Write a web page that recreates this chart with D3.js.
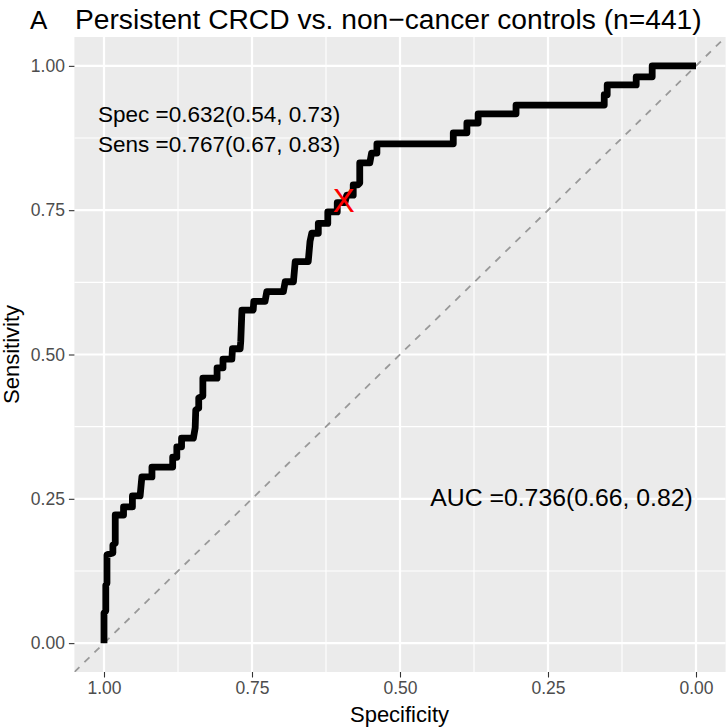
<!DOCTYPE html>
<html>
<head>
<meta charset="utf-8">
<script src="https://cdn.jsdelivr.net/npm/d3@7"></script>
<style>
  html, body { margin: 0; padding: 0; background: #ffffff; }
  svg { display: block; font-family: "Liberation Sans", Arial, Helvetica, sans-serif; }
</style>
</head>
<body>
<svg id="chart" width="728" height="727"></svg>
<script>
// ---- data ----
const specificity = [1.000, 1.000, 0.997, 0.997, 0.995, 0.995, 0.985, 0.985, 0.981, 0.981,
  0.967, 0.967, 0.952, 0.952, 0.939, 0.936, 0.919, 0.919, 0.884, 0.884,
  0.877, 0.877, 0.869, 0.869, 0.849, 0.846, 0.845, 0.840, 0.840, 0.833,
  0.833, 0.809, 0.809, 0.799, 0.799, 0.784, 0.783, 0.770, 0.769, 0.767,
  0.748, 0.747, 0.728, 0.725, 0.697, 0.694, 0.680, 0.677, 0.655, 0.652,
  0.649, 0.638, 0.638, 0.622, 0.622, 0.606, 0.606, 0.593, 0.590, 0.579,
  0.579, 0.571, 0.568, 0.568, 0.551, 0.548, 0.539, 0.539, 0.410, 0.410,
  0.387, 0.387, 0.368, 0.368, 0.304, 0.304, 0.155, 0.155, 0.150, 0.150,
  0.101, 0.101, 0.074, 0.074, 0.000];
const sensitivity = [0.000, 0.052, 0.056, 0.100, 0.104, 0.153, 0.156, 0.170, 0.173, 0.222,
  0.222, 0.236, 0.236, 0.255, 0.255, 0.288, 0.288, 0.305, 0.305, 0.322,
  0.322, 0.340, 0.340, 0.355, 0.355, 0.373, 0.404, 0.407, 0.425, 0.428,
  0.459, 0.459, 0.477, 0.477, 0.492, 0.492, 0.510, 0.510, 0.523, 0.577,
  0.577, 0.592, 0.592, 0.609, 0.609, 0.626, 0.626, 0.661, 0.661, 0.696,
  0.710, 0.710, 0.727, 0.727, 0.747, 0.747, 0.763, 0.763, 0.776, 0.776,
  0.794, 0.794, 0.797, 0.832, 0.832, 0.849, 0.849, 0.865, 0.865, 0.884,
  0.884, 0.901, 0.901, 0.917, 0.917, 0.932, 0.932, 0.950, 0.950, 0.967,
  0.967, 0.981, 0.981, 1.000, 1.000];

const tickValues = [1.00, 0.75, 0.50, 0.25, 0.00];
const tickLabels = ["1.00", "0.75", "0.50", "0.25", "0.00"];
const minorBreaks = [0.125, 0.375, 0.625, 0.875];

const cutoffPoint = { spec: 0.595, sens: 0.767, label: "X" };
const annotations = [
  { spec: 1.01, sens: 0.917, text: "Spec =0.632(0.54, 0.73)", size: 22.5 },
  { spec: 1.01, sens: 0.865, text: "Sens =0.767(0.67, 0.83)", size: 22.5 },
  { spec: 0.449, sens: 0.253, text: "AUC =0.736(0.66, 0.82)", size: 24.8 }
];
const tagText = "A";
const titleText = "Persistent CRCD vs. non\u2212cancer controls (n=441)";
const xTitle = "Specificity";
const yTitle = "Sensitivity";

// ---- layout ----
const svg = d3.select("#chart");
const panel = { left: 74.4, right: 725.6, top: 37, bottom: 672 };

const x = d3.scaleLinear().domain([1.05, -0.05]).range([panel.left, panel.right]);
const y = d3.scaleLinear().domain([-0.05, 1.05]).range([panel.bottom, panel.top]);

svg.append("rect").attr("width", 728).attr("height", 727).attr("fill", "#ffffff");

// panel background
svg.append("rect")
  .attr("x", panel.left).attr("y", panel.top)
  .attr("width", panel.right - panel.left).attr("height", panel.bottom - panel.top)
  .attr("fill", "#EBEBEB");

const grid = svg.append("g");
minorBreaks.forEach(v => {
  grid.append("line").attr("x1", x(v)).attr("x2", x(v)).attr("y1", panel.top).attr("y2", panel.bottom)
    .attr("stroke", "#ffffff").attr("stroke-width", 1.1);
  grid.append("line").attr("y1", y(v)).attr("y2", y(v)).attr("x1", panel.left).attr("x2", panel.right)
    .attr("stroke", "#ffffff").attr("stroke-width", 1.1);
});
tickValues.forEach(v => {
  grid.append("line").attr("x1", x(v)).attr("x2", x(v)).attr("y1", panel.top).attr("y2", panel.bottom)
    .attr("stroke", "#ffffff").attr("stroke-width", 2.2);
  grid.append("line").attr("y1", y(v)).attr("y2", y(v)).attr("x1", panel.left).attr("x2", panel.right)
    .attr("stroke", "#ffffff").attr("stroke-width", 2.2);
});

svg.append("clipPath").attr("id", "clip").append("rect")
  .attr("x", panel.left).attr("y", panel.top)
  .attr("width", panel.right - panel.left).attr("height", panel.bottom - panel.top);

const plot = svg.append("g").attr("clip-path", "url(#clip)");

// diagonal reference line
plot.append("line")
  .attr("x1", x(1.05)).attr("y1", y(-0.05))
  .attr("x2", x(-0.05)).attr("y2", y(1.05))
  .attr("stroke", "#999999").attr("stroke-width", 1.8)
  .attr("stroke-dasharray", "7,7");

// ROC curve
const pts = specificity.map((s, i) => [s, sensitivity[i]]);
const line = d3.line().x(d => x(d[0])).y(d => y(d[1]));
plot.append("path")
  .attr("d", line(pts))
  .attr("fill", "none")
  .attr("stroke", "#000000")
  .attr("stroke-width", 6.8)
  .attr("stroke-linejoin", "round")
  .attr("stroke-linecap", "butt");

// annotations
annotations.forEach(a => {
  svg.append("text")
    .attr("x", x(a.spec)).attr("y", y(a.sens))
    .attr("dy", "0.35em")
    .attr("font-size", a.size)
    .attr("fill", "#000000")
    .text(a.text);
});

// cutoff marker
svg.append("text")
  .attr("x", x(cutoffPoint.spec)).attr("y", y(cutoffPoint.sens))
  .attr("dy", "0.36em")
  .attr("text-anchor", "middle")
  .attr("font-size", 33)
  .attr("fill", "#FF0000")
  .text(cutoffPoint.label);

// axes
const xAxis = d3.axisBottom(x).tickValues(tickValues).tickFormat((d, i) => tickLabels[i])
  .tickSizeOuter(0).tickSizeInner(5.5).tickPadding(4);
const yAxis = d3.axisLeft(y).tickValues(tickValues).tickFormat((d, i) => tickLabels[i])
  .tickSizeOuter(0).tickSizeInner(5.5).tickPadding(4);

const gx = svg.append("g").attr("transform", `translate(0,${panel.bottom})`).call(xAxis);
const gy = svg.append("g").attr("transform", `translate(${panel.left},0)`).call(yAxis);
[gx, gy].forEach(g => {
  g.select(".domain").remove();
  g.selectAll(".tick line").attr("stroke", "#333333").attr("stroke-width", 1.1);
  g.selectAll(".tick text").attr("fill", "#4D4D4D").attr("font-size", 17.5)
    .attr("font-family", "'Liberation Sans', Arial, sans-serif");
});

// axis titles
svg.append("text")
  .attr("x", (panel.left + panel.right) / 2 - 0.5).attr("y", 722)
  .attr("text-anchor", "middle").attr("font-size", 22).attr("fill", "#000000")
  .text(xTitle);
svg.append("text")
  .attr("transform", `translate(19,${(panel.top + panel.bottom) / 2}) rotate(-90)`)
  .attr("text-anchor", "middle").attr("font-size", 22).attr("fill", "#000000")
  .text(yTitle);

// tag and title
svg.append("text").attr("x", 30).attr("y", 29).attr("font-size", 26).attr("fill", "#000000").text(tagText);
svg.append("text").attr("x", 75).attr("y", 29).attr("font-size", 28.2).attr("fill", "#000000").text(titleText);
</script>
</body>
</html>
